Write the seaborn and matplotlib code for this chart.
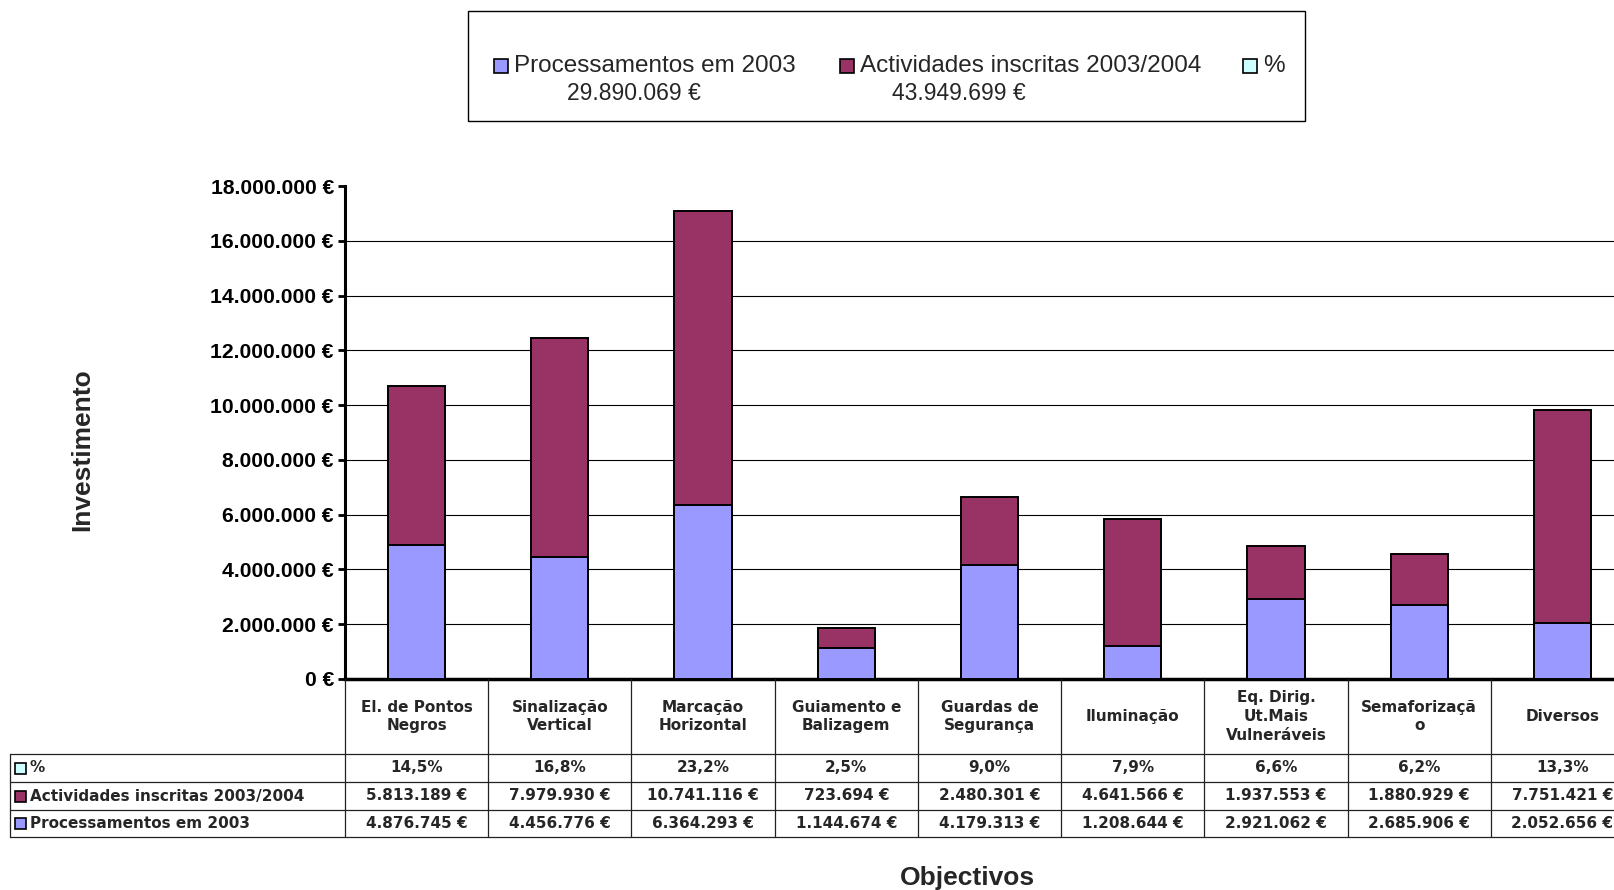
import matplotlib
matplotlib.use('Agg')
import matplotlib.pyplot as plt
import seaborn as sns
import pandas as pd
from matplotlib.patches import Rectangle
from matplotlib.ticker import FuncFormatter

objectivos = ['El. de Pontos\nNegros', 'Sinalização\nVertical', 'Marcação\nHorizontal',
              'Guiamento e\nBalizagem', 'Guardas de\nSegurança', 'Iluminação',
              'Eq. Dirig.\nUt.Mais\nVulneráveis', 'Semaforizaçã\no', 'Diversos']
processamentos = [4876745, 4456776, 6364293, 1144674, 4179313, 1208644, 2921062, 2685906, 2052656]
actividades = [5813189, 7979930, 10741116, 723694, 2480301, 4641566, 1937553, 1880929, 7751421]
percentagens = ['14,5%', '16,8%', '23,2%', '2,5%', '9,0%', '7,9%', '6,6%', '6,2%', '13,3%']
y_ticks = [0, 2000000, 4000000, 6000000, 8000000, 10000000, 12000000, 14000000, 16000000, 18000000]
series = ['Processamentos em 2003', 'Actividades inscritas 2003/2004', '%']

COL_PROC = '#9999FF'
COL_ACT = '#993366'
COL_PCT = '#CCFFFF'


def euro(v):
    return f"{int(v):,}".replace(',', '.') + ' €'


W, H = 1614, 890


def fx(px):
    return px / W


def fy(py):
    return 1 - py / H


sns.set_theme(style='white')
plt.rcParams['font.family'] = ['Liberation Sans', 'DejaVu Sans']
# the table in the original is letter-spaced, a wider face gets closer to it
TAB_FONT = ['DejaVu Sans']
TAB_SIZE = 11

df = pd.DataFrame({'obj': objectivos, 'proc': processamentos, 'act': actividades})
df['total'] = df['proc'] + df['act']

fig = plt.figure(figsize=(W / 100, H / 100), dpi=100)
fig.patch.set_facecolor('white')

ax_left, ax_right = 345, 1634
ax = fig.add_axes([fx(ax_left), fy(679), (ax_right - ax_left) / W, (679 - 186) / H])

# gridlines
for t in y_ticks[1:-1]:
    ax.axhline(t, color='black', lw=0.8, zorder=0)

# stacked bars: totals first, then bottom series over them
sns.barplot(data=df, x='obj', y='total', color=COL_ACT, saturation=1, width=0.4,
            edgecolor='black', linewidth=1.4, ax=ax, zorder=2)
sns.barplot(data=df, x='obj', y='proc', color=COL_PROC, saturation=1, width=0.4,
            edgecolor='black', linewidth=1.4, ax=ax, zorder=3)

ax.set_xlim(-0.5, len(objectivos) - 0.5)
ax.set_ylim(0, 18000000)
ax.set_yticks(y_ticks)
ax.yaxis.set_major_formatter(FuncFormatter(lambda v, p: euro(v)))
ax.tick_params(axis='y', left=True, direction='out', length=5, width=2, pad=3,
               labelsize=15.2, colors='black')
for lab in ax.get_yticklabels():
    lab.set_fontweight('bold')
ax.tick_params(axis='x', bottom=False, labelbottom=False)
ax.set_xlabel('')
ax.set_ylabel('')
ax.set_facecolor('white')
for s in ['top', 'right']:
    ax.spines[s].set_visible(False)
ax.spines['left'].set_linewidth(2.2)
ax.spines['left'].set_color('black')
ax.spines['bottom'].set_linewidth(2.5)
ax.spines['bottom'].set_color('black')

# data table below the axis
tab = fig.add_axes([fx(ax_left), fy(837), (ax_right - ax_left) / W, (837 - 679) / H])
tab.set_xlim(-0.5, len(objectivos) - 0.5)
tab.set_ylim(158, 0)
tab.axis('off')
col_px = (ax_right - ax_left) / len(objectivos)
x_lab = -0.5 + (10 - ax_left) / col_px
row_edges = [0, 75, 103, 131, 158]
lc = '#222222'
for k in range(len(objectivos) + 1):
    tab.plot([k - 0.5, k - 0.5], [0, 158], color=lc, lw=0.9, clip_on=False)
tab.plot([x_lab, x_lab], [75, 158], color=lc, lw=0.9, clip_on=False)
for yy in row_edges[1:]:
    tab.plot([x_lab, len(objectivos) - 0.5], [yy, yy], color=lc, lw=0.9, clip_on=False)

tkw = dict(ha='center', va='center', fontsize=TAB_SIZE, fontweight='bold',
           family=TAB_FONT, clip_on=False)
for i, name in enumerate(objectivos):
    tab.text(i, 37.5, name, linespacing=1.3, **tkw)
    tab.text(i, 89, percentagens[i], **tkw)
    tab.text(i, 117, euro(actividades[i]), **tkw)
    tab.text(i, 144.5, euro(processamentos[i]), **tkw)

row_info = [(series[2], COL_PCT, 89), (series[1], COL_ACT, 117), (series[0], COL_PROC, 144.5)]
sq = 11
for name, col, yc in row_info:
    tab.add_patch(Rectangle((-0.5 + (14.5 - ax_left) / col_px, yc - sq / 2), sq / col_px, sq,
                            facecolor=col, edgecolor='black', lw=1.2, clip_on=False))
    tab.text(-0.5 + (30 - ax_left) / col_px, yc, name, ha='left', va='center',
             fontsize=TAB_SIZE, fontweight='bold', family=TAB_FONT, clip_on=False)

# legend box at the top
fig.patches.append(Rectangle((fx(468), fy(121)), (1305 - 468) / W, (121 - 11) / H,
                             transform=fig.transFigure, fill=False, edgecolor='black', lw=1))
leg_items = [(series[0], COL_PROC, 494, euro(sum(processamentos)), 634),
             (series[1], COL_ACT, 840, euro(sum(actividades)), 959),
             (series[2], COL_PCT, 1243, None, None)]
for name, col, sx, total, tx in leg_items:
    fig.patches.append(Rectangle((fx(sx), fy(73)), 14 / W, 14 / H, transform=fig.transFigure,
                                 facecolor=col, edgecolor='black', lw=1.2))
    fig.text(fx(sx + 20), fy(66), name, ha='left', va='center', fontsize=17.5)
    if total is not None:
        fig.text(fx(tx), fy(93), total, ha='center', va='center', fontsize=16.5)

fig.text(fx(82), fy(450), 'Investimento', rotation=90, ha='center', va='center',
         fontsize=19, fontweight='bold')
fig.text(fx(967), fy(878), 'Objectivos', ha='center', va='center', fontsize=19,
         fontweight='bold')

fig.savefig('out.png', dpi=100, facecolor='white')
